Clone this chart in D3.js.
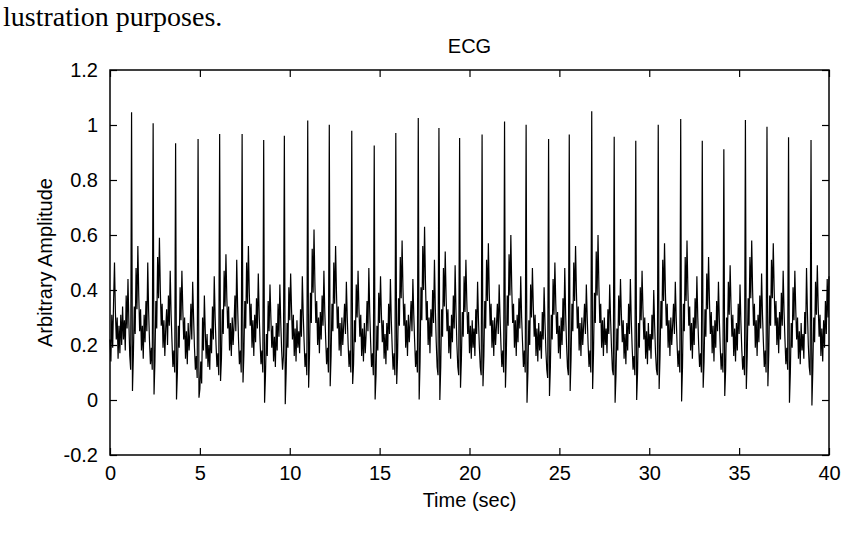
<!DOCTYPE html>
<html>
<head>
<meta charset="utf-8">
<script src="https://cdn.jsdelivr.net/npm/d3@7"></script>
<style>
  html, body { margin: 0; padding: 0; background: #fff; }
  svg { display: block; }
</style>
</head>
<body>
<svg id="chart" width="842" height="544"></svg>
<script>
// ---------------- data ----------------
const xTicks = [0, 5, 10, 15, 20, 25, 30, 35, 40];
const yTicks = [-0.2, 0, 0.2, 0.4, 0.6, 0.8, 1, 1.2];
const yTickLabels = ["-0.2", "0", "0.2", "0.4", "0.6", "0.8", "1", "1.2"];
const sampleStep = 0.05; // sec between samples

// samples before the first R peak (t = 0 ... 1.15 s)
const leadValues = [0.22, 0.14, 0.31, 0.19, 0.36, 0.50, 0.32, 0.22, 0.30, 0.15, 0.27, 0.17,
                    0.31, 0.20, 0.34, 0.22, 0.29, 0.18, 0.38, 0.26, 0.44, 0.28, 0.16, 0.11];

// time of each R peak (sec)
const rTimes = [1.20, 2.40, 3.65, 4.90, 6.10, 7.35, 8.55, 9.70, 11.00, 12.20, 13.45, 14.70,
                15.90, 17.15, 18.30, 19.45, 20.70, 21.95, 23.15, 24.40, 25.55, 26.80, 28.05,
                29.25, 30.50, 31.75, 32.95, 34.15, 35.35, 36.55, 37.75, 39.00];

// samples of each beat, starting at its R peak
const beats = [
  [1.046, 0.033, 0.16, 0.34, 0.24, 0.48, 0.33, 0.56, 0.38, 0.25, 0.33, 0.18, 0.27, 0.15, 0.31, 0.21, 0.36, 0.25, 0.50, 0.32, 0.21, 0.13, 0.19, 0.11],
  [1.006, 0.02, 0.14, 0.36, 0.26, 0.52, 0.37, 0.59, 0.40, 0.27, 0.35, 0.19, 0.29, 0.16, 0.26, 0.33, 0.20, 0.38, 0.27, 0.47, 0.31, 0.21, 0.12, 0.18, 0.10],
  [0.934, 0.002, 0.10, 0.27, 0.19, 0.41, 0.29, 0.47, 0.33, 0.22, 0.30, 0.15, 0.25, 0.13, 0.28, 0.18, 0.24, 0.35, 0.22, 0.43, 0.30, 0.19, 0.11, 0.16, 0.08],
  [0.949, 0.008, 0.04, 0.14, 0.06, 0.30, 0.18, 0.38, 0.25, 0.15, 0.24, 0.12, 0.20, 0.11, 0.26, 0.17, 0.34, 0.22, 0.45, 0.30, 0.20, 0.12, 0.17, 0.09],
  [0.967, 0.069, 0.15, 0.33, 0.24, 0.47, 0.34, 0.53, 0.37, 0.26, 0.34, 0.18, 0.28, 0.16, 0.30, 0.20, 0.27, 0.38, 0.25, 0.51, 0.34, 0.22, 0.13, 0.18, 0.10],
  [0.967, 0.064, 0.17, 0.36, 0.26, 0.50, 0.35, 0.56, 0.39, 0.27, 0.35, 0.19, 0.29, 0.16, 0.31, 0.21, 0.37, 0.26, 0.46, 0.31, 0.21, 0.13, 0.18, 0.10],
  [0.945, -0.01, 0.09, 0.24, 0.16, 0.36, 0.25, 0.42, 0.30, 0.19, 0.27, 0.14, 0.23, 0.12, 0.28, 0.18, 0.35, 0.23, 0.42, 0.28, 0.18, 0.11, 0.16],
  [0.961, -0.015, 0.10, 0.28, 0.19, 0.41, 0.29, 0.46, 0.33, 0.22, 0.31, 0.16, 0.26, 0.14, 0.29, 0.19, 0.25, 0.17, 0.33, 0.23, 0.45, 0.31, 0.21, 0.12, 0.17, 0.09],
  [1.016, 0.045, 0.17, 0.39, 0.28, 0.55, 0.39, 0.62, 0.42, 0.28, 0.36, 0.20, 0.30, 0.17, 0.32, 0.22, 0.38, 0.27, 0.47, 0.32, 0.22, 0.13, 0.19, 0.10],
  [1.001, 0.05, 0.16, 0.35, 0.25, 0.50, 0.35, 0.56, 0.39, 0.26, 0.34, 0.18, 0.28, 0.16, 0.30, 0.20, 0.27, 0.35, 0.24, 0.43, 0.30, 0.20, 0.12, 0.18, 0.10],
  [0.979, 0.058, 0.13, 0.29, 0.21, 0.42, 0.30, 0.47, 0.33, 0.23, 0.31, 0.16, 0.26, 0.14, 0.28, 0.17, 0.24, 0.36, 0.25, 0.48, 0.32, 0.21, 0.12, 0.17, 0.09],
  [0.925, 0.002, 0.09, 0.27, 0.18, 0.39, 0.28, 0.45, 0.31, 0.21, 0.29, 0.15, 0.24, 0.13, 0.28, 0.18, 0.35, 0.24, 0.44, 0.29, 0.19, 0.11, 0.17, 0.09],
  [0.971, 0.058, 0.16, 0.37, 0.27, 0.52, 0.37, 0.58, 0.40, 0.27, 0.35, 0.19, 0.29, 0.16, 0.31, 0.21, 0.28, 0.36, 0.25, 0.44, 0.31, 0.21, 0.12, 0.18, 0.10],
  [1.025, 0.002, 0.14, 0.41, 0.29, 0.56, 0.40, 0.63, 0.43, 0.29, 0.36, 0.20, 0.30, 0.17, 0.33, 0.23, 0.40, 0.28, 0.51, 0.33, 0.21, 0.12, 0.09],
  [0.989, 0.0, 0.12, 0.33, 0.23, 0.48, 0.34, 0.54, 0.37, 0.25, 0.33, 0.17, 0.27, 0.15, 0.31, 0.21, 0.38, 0.26, 0.49, 0.32, 0.20, 0.12, 0.09],
  [0.953, 0.045, 0.15, 0.32, 0.23, 0.45, 0.32, 0.51, 0.36, 0.24, 0.32, 0.17, 0.27, 0.15, 0.29, 0.19, 0.26, 0.16, 0.33, 0.24, 0.43, 0.29, 0.19, 0.12, 0.09],
  [0.965, 0.05, 0.16, 0.36, 0.26, 0.51, 0.36, 0.57, 0.39, 0.27, 0.35, 0.19, 0.29, 0.16, 0.30, 0.20, 0.27, 0.35, 0.24, 0.42, 0.30, 0.20, 0.12, 0.18, 0.10],
  [1.013, 0.045, 0.17, 0.38, 0.27, 0.53, 0.38, 0.60, 0.41, 0.28, 0.35, 0.19, 0.29, 0.16, 0.31, 0.21, 0.37, 0.26, 0.45, 0.30, 0.21, 0.12, 0.18, 0.10],
  [1.001, -0.01, 0.10, 0.29, 0.20, 0.42, 0.30, 0.48, 0.34, 0.23, 0.31, 0.16, 0.26, 0.14, 0.28, 0.18, 0.25, 0.15, 0.32, 0.22, 0.41, 0.28, 0.18, 0.11, 0.08],
  [0.949, 0.015, 0.12, 0.31, 0.22, 0.44, 0.31, 0.50, 0.35, 0.24, 0.32, 0.17, 0.27, 0.15, 0.30, 0.20, 0.37, 0.25, 0.48, 0.31, 0.20, 0.12, 0.09],
  [0.965, 0.033, 0.15, 0.35, 0.25, 0.50, 0.36, 0.56, 0.39, 0.26, 0.34, 0.18, 0.28, 0.16, 0.30, 0.20, 0.27, 0.35, 0.24, 0.42, 0.30, 0.20, 0.12, 0.18, 0.10],
  [1.05, 0.04, 0.17, 0.39, 0.28, 0.54, 0.38, 0.60, 0.41, 0.28, 0.35, 0.19, 0.29, 0.16, 0.30, 0.20, 0.26, 0.17, 0.33, 0.24, 0.42, 0.29, 0.19, 0.11, 0.09],
  [0.957, -0.01, 0.09, 0.26, 0.18, 0.38, 0.27, 0.44, 0.31, 0.21, 0.29, 0.15, 0.24, 0.13, 0.28, 0.18, 0.35, 0.24, 0.44, 0.29, 0.19, 0.11, 0.16, 0.09],
  [0.943, 0.0, 0.10, 0.28, 0.19, 0.41, 0.29, 0.47, 0.33, 0.22, 0.30, 0.15, 0.25, 0.13, 0.28, 0.18, 0.24, 0.15, 0.31, 0.22, 0.40, 0.27, 0.17, 0.11, 0.09],
  [1.001, 0.04, 0.16, 0.36, 0.26, 0.51, 0.36, 0.57, 0.39, 0.27, 0.35, 0.19, 0.29, 0.16, 0.30, 0.20, 0.27, 0.35, 0.24, 0.43, 0.30, 0.20, 0.12, 0.18, 0.10],
  [1.022, -0.005, 0.12, 0.35, 0.25, 0.52, 0.36, 0.58, 0.40, 0.27, 0.34, 0.18, 0.28, 0.15, 0.30, 0.20, 0.37, 0.26, 0.45, 0.30, 0.20, 0.12, 0.17, 0.10],
  [0.943, 0.045, 0.14, 0.33, 0.23, 0.46, 0.33, 0.52, 0.36, 0.24, 0.32, 0.17, 0.27, 0.14, 0.29, 0.19, 0.36, 0.25, 0.43, 0.29, 0.19, 0.11, 0.17, 0.10],
  [0.912, 0.015, 0.11, 0.30, 0.21, 0.43, 0.31, 0.49, 0.34, 0.23, 0.31, 0.16, 0.26, 0.14, 0.28, 0.18, 0.35, 0.24, 0.42, 0.28, 0.18, 0.11, 0.16, 0.09],
  [1.018, 0.04, 0.16, 0.37, 0.27, 0.52, 0.37, 0.58, 0.40, 0.27, 0.35, 0.19, 0.29, 0.16, 0.31, 0.21, 0.38, 0.26, 0.46, 0.31, 0.21, 0.12, 0.18, 0.10],
  [0.994, 0.05, 0.17, 0.38, 0.27, 0.51, 0.37, 0.57, 0.40, 0.27, 0.36, 0.20, 0.30, 0.17, 0.32, 0.22, 0.39, 0.27, 0.47, 0.32, 0.22, 0.13, 0.19, 0.11],
  [0.955, -0.01, 0.10, 0.28, 0.19, 0.41, 0.29, 0.47, 0.33, 0.22, 0.30, 0.15, 0.25, 0.13, 0.28, 0.18, 0.24, 0.15, 0.32, 0.24, 0.48, 0.32, 0.20, 0.12, 0.09],
  [0.945, -0.02, 0.11, 0.30, 0.21, 0.43, 0.31, 0.49, 0.34, 0.23, 0.31, 0.16, 0.26, 0.14, 0.29, 0.19, 0.36, 0.24, 0.44, 0.30, 0.45]
];

// ---------------- build series ----------------
const series = [];
leadValues.forEach((v, i) => series.push({ t: i * sampleStep, v }));
beats.forEach((vals, k) => {
  const end = k + 1 < rTimes.length ? rTimes[k + 1] : 40.0001;
  vals.forEach((v, j) => {
    const t = rTimes[k] + j * sampleStep;
    if (t < end - 1e-6) series.push({ t, v });
  });
});

// ---------------- chart ----------------
const svg = d3.select("#chart");
const L = 110, R = 829, T = 70, B = 455;
const x = d3.scaleLinear().domain([0, 40]).range([L, R]);
const y = d3.scaleLinear().domain([-0.2, 1.2]).range([B, T]);
const FONT = "'Liberation Sans', Arial, Helvetica, sans-serif";
const FS = "20px";

// visible fragment of the page text above the figure
svg.append("text")
  .attr("x", 3).attr("y", 26)
  .attr("text-anchor", "start")
  .style("font-family", "'Liberation Serif', 'Times New Roman', serif")
  .style("font-size", "28px")
  .attr("fill", "#000")
  .text("lustration purposes.");

// signal
const line = d3.line().x(d => x(d.t)).y(d => y(d.v));
svg.append("path")
  .datum(series)
  .attr("d", line)
  .attr("fill", "none")
  .attr("stroke", "#000")
  .attr("stroke-width", 1.2)
  .attr("stroke-linejoin", "miter");

// axes (MATLAB-style: inward ticks on all four sides)
const tickLen = 7;
const gB = svg.append("g").attr("transform", `translate(0,${B})`)
  .call(d3.axisBottom(x).tickValues(xTicks).tickSize(-tickLen).tickPadding(tickLen + 4).tickFormat(d3.format("d")));
const gT = svg.append("g").attr("transform", `translate(0,${T})`)
  .call(d3.axisTop(x).tickValues(xTicks).tickSize(-tickLen).tickFormat(""));
const gL = svg.append("g").attr("transform", `translate(${L},0)`)
  .call(d3.axisLeft(y).tickValues(yTicks).tickSize(-tickLen).tickPadding(tickLen + 5)
    .tickFormat((d, i) => yTickLabels[i]));
const gR = svg.append("g").attr("transform", `translate(${R},0)`)
  .call(d3.axisRight(y).tickValues(yTicks).tickSize(-tickLen).tickFormat(""));

[gB, gT, gL, gR].forEach(g => {
  g.select(".domain").remove();
  g.selectAll(".tick line").attr("stroke", "#000").attr("stroke-width", 1.2);
  g.selectAll("text").style("font-family", FONT).style("font-size", FS).attr("fill", "#000");
});

// box
svg.append("rect")
  .attr("x", L).attr("y", T).attr("width", R - L).attr("height", B - T)
  .attr("fill", "none").attr("stroke", "#000").attr("stroke-width", 1.5);

// title and labels
svg.append("text")
  .attr("x", (L + R) / 2).attr("y", 53)
  .attr("text-anchor", "middle")
  .style("font-family", FONT).style("font-size", FS)
  .text("ECG");

svg.append("text")
  .attr("x", (L + R) / 2).attr("y", 507)
  .attr("text-anchor", "middle")
  .style("font-family", FONT).style("font-size", FS)
  .text("Time (sec)");

svg.append("text")
  .attr("transform", `translate(52,${(T + B) / 2}) rotate(-90)`)
  .attr("text-anchor", "middle")
  .style("font-family", FONT).style("font-size", FS)
  .text("Arbitrary Amplitude");
</script>
</body>
</html>
